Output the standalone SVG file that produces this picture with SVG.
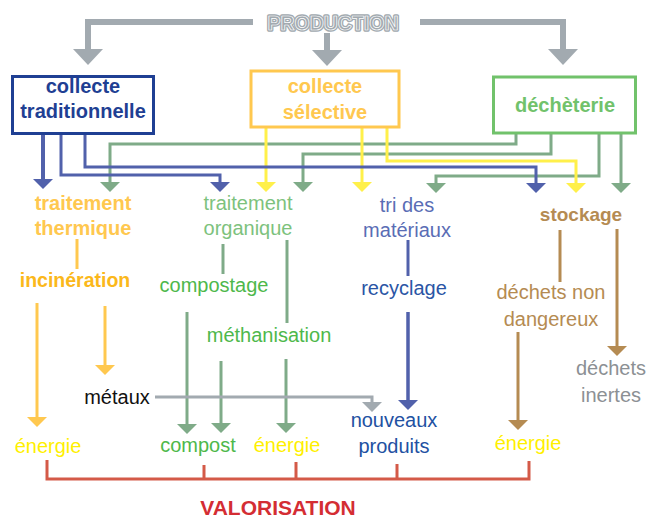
<svg xmlns="http://www.w3.org/2000/svg" width="648" height="520" viewBox="0 0 648 520">
<style>
text{font-family:"Liberation Sans",Arial,sans-serif;font-size:20px;text-anchor:middle}
.b{font-weight:bold}
.ln{fill:none;stroke-linejoin:miter;stroke-linecap:butt}
.gray{stroke:#a2aab0}
.blue{stroke:#5161ab}
.green{stroke:#7fab88}
.yel{stroke:#fff04a}
.org{stroke:#ffc84f}
.brn{stroke:#b58b52}
.red{stroke:#d45a48}
.fgray{fill:#a2aab0}
.fblue{fill:#5161ab}
.fgreen{fill:#7fab88}
.fyel{fill:#fff04a}
.forg{fill:#ffc84f}
.fbrn{fill:#b58b52}
</style>
<defs>
<path id="ah" d="M-10,0 L10,0 L0,10 Z"/>
<path id="bah" d="M-15,0 L15,0 L0,16 Z"/>
</defs>

<g id="connectors">
  <!-- production -->
  <path class="ln gray" stroke-width="6" d="M253,22 H88 V50"/>
  <path class="ln gray" stroke-width="6" d="M420,22 H563 V50"/>
  <path class="ln gray" stroke-width="6" d="M327,33 V51"/>
  <use href="#bah" x="88" y="49" class="fgray"/>
  <use href="#bah" x="563" y="49" class="fgray"/>
  <use href="#bah" x="327" y="50" class="fgray"/>

  <!-- déchèterie outputs -->
  <path class="ln green" stroke-width="3" d="M516,134 V144 H110 V182"/>
  <path class="ln green" stroke-width="3" d="M551,134 V154 H303 V182"/>
  <path class="ln green" stroke-width="3" d="M599,134 V176 H436 V183"/>
  <path class="ln green" stroke-width="3" d="M621,134 V183"/>
  <use href="#ah" x="110" y="182" class="fgreen"/>
  <use href="#ah" x="303" y="182" class="fgreen"/>
  <use href="#ah" x="436" y="183" class="fgreen"/>
  <use href="#ah" x="621" y="183" class="fgreen"/>

  <!-- collecte sélective outputs -->
  <path class="ln yel" stroke-width="3" d="M266,127 V182"/>
  <path class="ln yel" stroke-width="3" d="M362,127 V182"/>
  <path class="ln yel" stroke-width="3" d="M387,127 V161 H576 V183"/>
  <use href="#ah" x="266" y="182" class="fyel"/>
  <use href="#ah" x="362" y="182" class="fyel"/>
  <use href="#ah" x="576" y="183" class="fyel"/>

  <!-- collecte traditionnelle outputs -->
  <path class="ln blue" stroke-width="4" d="M43,134 V180"/>
  <path class="ln blue" stroke-width="3" d="M61,134 V175 H220 V182"/>
  <path class="ln blue" stroke-width="3" d="M85,134 V167 H536 V183"/>
  <use href="#ah" x="43" y="179" class="fblue"/>
  <use href="#ah" x="220" y="182" class="fblue"/>
  <use href="#ah" x="536" y="183" class="fblue"/>

  <!-- traitement thermique -->
  <path class="ln org" stroke-width="3" d="M77,239 V269"/>
  <path class="ln org" stroke-width="3" d="M37,303 V418"/>
  <path class="ln org" stroke-width="3" d="M105,306 V366"/>
  <use href="#ah" x="37" y="417" class="forg"/>
  <use href="#ah" x="105" y="365" class="forg"/>

  <!-- traitement organique -->
  <path class="ln green" stroke-width="3" d="M223,244 V274"/>
  <path class="ln green" stroke-width="3" d="M287,240 V323"/>
  <path class="ln green" stroke-width="3" d="M187,312 V425"/>
  <path class="ln green" stroke-width="3" d="M221,361 V424"/>
  <path class="ln green" stroke-width="3" d="M286,359 V424"/>
  <use href="#ah" x="187" y="424" class="fgreen"/>
  <use href="#ah" x="221" y="423" class="fgreen"/>
  <use href="#ah" x="286" y="423" class="fgreen"/>

  <!-- métaux -->
  <path class="ln gray" stroke-width="3" d="M155,397 H372 V403"/>
  <use href="#ah" x="372" y="402" class="fgray"/>

  <!-- tri / recyclage -->
  <path class="ln blue" stroke-width="3" d="M408,240 V276"/>
  <path class="ln blue" stroke-width="3.5" d="M408,312 V401"/>
  <use href="#ah" x="408" y="400" class="fblue"/>

  <!-- stockage -->
  <path class="ln brn" stroke-width="3" d="M560,230 V282"/>
  <path class="ln brn" stroke-width="3" d="M617,229 V347"/>
  <path class="ln brn" stroke-width="3" d="M518,332 V421"/>
  <use href="#ah" x="617" y="346" class="fbrn"/>
  <use href="#ah" x="518" y="420" class="fbrn"/>

  <!-- valorisation bracket -->
  <path class="ln red" stroke-width="3" d="M47,460 V479 H529 V461"/>
  <path class="ln red" stroke-width="3" d="M204,465 V479 M296,462 V479 M397,464 V479"/>
</g>

<g id="production">
  <text x="333" y="30" class="b" style="font-size:19.5px" fill="#a2aab0" stroke="#a2aab0" stroke-width="3.5" stroke-linejoin="round">PRODUCTION</text>
  <text x="333" y="30" class="b" style="font-size:19.5px" fill="#a2aab0" stroke="#ffffff" stroke-width="0.7" stroke-linejoin="round">PRODUCTION</text>
</g>

<g id="collecte-traditionnelle">
  <rect x="12.5" y="76.5" width="141" height="57" fill="#ffffff" stroke="#1f3f93" stroke-width="3"/>
  <text x="83" y="93" class="b" fill="#1f3f93">collecte</text>
  <text x="83" y="118" class="b" fill="#1f3f93">traditionnelle</text>
</g>

<g id="collecte-selective">
  <rect x="251" y="71" width="148" height="56" fill="#ffffff" stroke="#ffc84f" stroke-width="3"/>
  <text x="325" y="93" class="b" fill="#ffc84f">collecte</text>
  <text x="325" y="119" class="b" fill="#ffc84f">sélective</text>
</g>

<g id="decheterie">
  <rect x="493.5" y="77" width="142" height="56" fill="#ffffff" stroke="#71c26b" stroke-width="3"/>
  <text x="565" y="112" class="b" fill="#71c26b">déchèterie</text>
</g>

<g id="traitement-thermique">
  <text x="83" y="210" class="b" fill="#ffc84f">traitement</text>
  <text x="83" y="235" class="b" fill="#ffc84f">thermique</text>
</g>
<g id="incineration">
  <text x="75" y="287" class="b" style="font-size:19.5px" fill="#fbb81b">incinération</text>
</g>
<g id="traitement-organique">
  <text x="248" y="210" fill="#7dc27d">traitement</text>
  <text x="248" y="235" fill="#7dc27d">organique</text>
</g>
<g id="compostage">
  <text x="214" y="292" fill="#4eb84b">compostage</text>
</g>
<g id="methanisation">
  <text x="269" y="342" fill="#4eb84b">méthanisation</text>
</g>
<g id="tri-des-materiaux">
  <text x="407" y="212" fill="#5a6db5">tri des</text>
  <text x="407" y="237" fill="#5a6db5">matériaux</text>
</g>
<g id="recyclage">
  <text x="404" y="295" fill="#2a55a5">recyclage</text>
</g>
<g id="stockage">
  <text x="581" y="221" class="b" style="font-size:19px" fill="#b58b52">stockage</text>
</g>
<g id="dechets-non-dangereux">
  <text x="551" y="299" fill="#b58b52">déchets non</text>
  <text x="551" y="326" fill="#b58b52">dangereux</text>
</g>
<g id="dechets-inertes">
  <text x="611" y="375" fill="#8c9094">déchets</text>
  <text x="611" y="402" fill="#8c9094">inertes</text>
</g>
<g id="metaux">
  <text x="117" y="404" fill="#111111">métaux</text>
</g>
<g id="energie-1">
  <text x="48" y="453" fill="#fff000">énergie</text>
</g>
<g id="compost">
  <text x="198" y="452" fill="#4eb84b">compost</text>
</g>
<g id="energie-2">
  <text x="287" y="452" fill="#fff000">énergie</text>
</g>
<g id="nouveaux-produits">
  <text x="394" y="427" fill="#2251a2">nouveaux</text>
  <text x="394" y="453" fill="#2251a2">produits</text>
</g>
<g id="energie-3">
  <text x="528" y="450" fill="#fff000">énergie</text>
</g>
<g id="valorisation">
  <text x="278" y="515" class="b" style="font-size:21px" fill="#d42d33">VALORISATION</text>
</g>
</svg>
